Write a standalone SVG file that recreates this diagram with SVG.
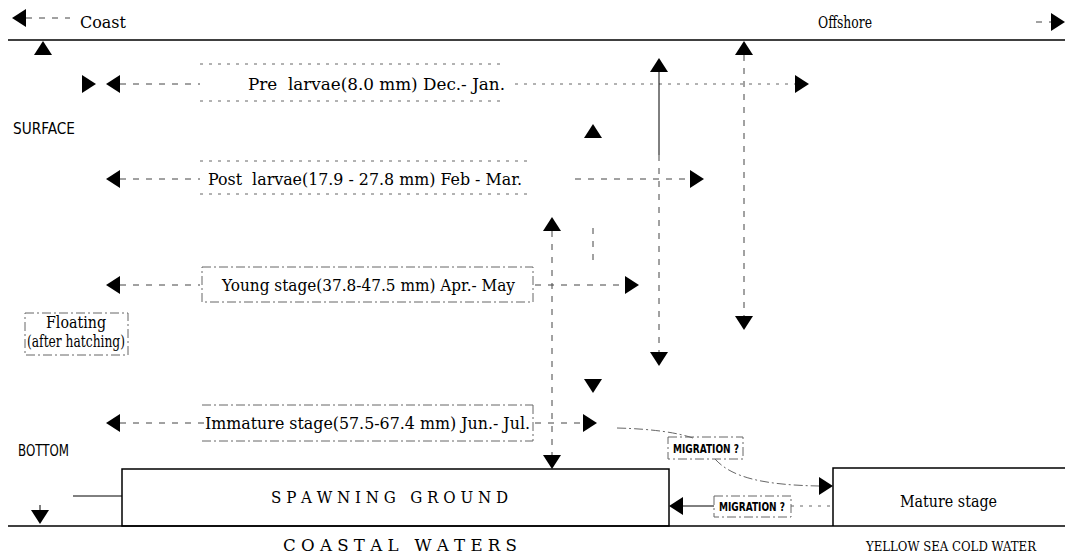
<svg xmlns="http://www.w3.org/2000/svg" width="1065" height="558" viewBox="0 0 1065 558">
<style>
text{font-family:"DejaVu Serif","Liberation Serif",serif;fill:#000;white-space:pre}
.lbl{font-size:16px}
.sans{font-family:"DejaVu Sans","Liberation Sans",sans-serif;font-size:16px}
.sm{font-family:"DejaVu Sans","Liberation Sans",sans-serif;font-size:12px;font-weight:bold}
.solid{stroke:#000;stroke-width:1.5;fill:none}
.thin{stroke:#000;stroke-width:1;fill:none}
.dash{stroke:#444;stroke-width:1;fill:none;stroke-dasharray:6 7}
.dot{stroke:#666;stroke-width:1;fill:none;stroke-dasharray:3 6}
.box{stroke:#666;stroke-width:1;fill:none;stroke-dasharray:9 3 2 3}
</style>
<defs>
<polygon id="tr" points="-14,-9 0,0 -14,9"/>
<polygon id="tl" points="0,0 14,-9 14,9"/>
<polygon id="tu" points="-9,14 0,0 9,14"/>
<polygon id="td" points="-9,-14 9,-14 0,0"/>
</defs>
<rect width="1065" height="558" fill="#fff"/>

<g id="axis">
<line class="solid" x1="8" y1="40" x2="1065" y2="40"/>
<line class="solid" x1="8" y1="526" x2="1065" y2="526"/>
<line class="dash" x1="26" y1="18" x2="70" y2="18"/>
<use href="#tl" x="12" y="18"/>
<text class="lbl" x="80" y="28" textLength="46" lengthAdjust="spacingAndGlyphs">Coast</text>
<text class="lbl" x="818" y="28" textLength="54" lengthAdjust="spacingAndGlyphs">Offshore</text>
<line class="dash" x1="1036" y1="22" x2="1051" y2="22"/>
<use href="#tr" x="1065" y="22"/>
<use href="#tu" x="43" y="41"/>
<text class="sans" x="13" y="134" textLength="62" lengthAdjust="spacingAndGlyphs">SURFACE</text>
<text class="sans" x="18" y="456" textLength="51" lengthAdjust="spacingAndGlyphs">BOTTOM</text>
<text class="lbl" x="283" y="551" font-size="14" textLength="234" lengthAdjust="spacingAndGlyphs">C O A S T A L   W A T E R S</text>
<text x="866" y="551" font-family="Liberation Serif, serif" font-size="12.5" textLength="170" lengthAdjust="spacingAndGlyphs">YELLOW SEA COLD WATER</text>
</g>

<g id="connectors">
<!-- pre larvae row -->
<use href="#tr" x="96" y="84"/>
<use href="#tl" x="106" y="84"/>
<line class="dash" x1="120" y1="84" x2="200" y2="84"/>
<line class="dot" x1="515" y1="84" x2="795" y2="84"/>
<use href="#tr" x="809" y="84"/>
<!-- post larvae row -->
<use href="#tl" x="106" y="179"/>
<line class="dash" x1="120" y1="179" x2="200" y2="179"/>
<line class="dash" x1="575" y1="179" x2="690" y2="179"/>
<use href="#tr" x="704" y="179"/>
<!-- young row -->
<use href="#tl" x="106" y="285"/>
<line class="dash" x1="120" y1="285" x2="200" y2="285"/>
<line class="dash" x1="535" y1="285" x2="625" y2="285"/>
<use href="#tr" x="639" y="285"/>
<!-- immature row -->
<use href="#tl" x="106" y="423"/>
<line class="dash" x1="120" y1="423" x2="204" y2="423"/>
<line class="dash" x1="535" y1="423" x2="583" y2="423"/>
<use href="#tr" x="597" y="423"/>
<!-- vertical x=659 -->
<use href="#tu" x="659" y="58"/>
<line class="thin" x1="659" y1="70" x2="659" y2="155"/>
<line class="dash" x1="659" y1="155" x2="659" y2="352"/>
<use href="#td" x="659" y="366"/>
<!-- vertical x=744 -->
<use href="#tu" x="744" y="41"/>
<line class="dash" x1="744" y1="55" x2="744" y2="316"/>
<use href="#td" x="744" y="330"/>
<!-- x=593 -->
<use href="#tu" x="593" y="124"/>
<line class="dash" x1="593" y1="228" x2="593" y2="262"/>
<use href="#td" x="593" y="393"/>
<!-- x=552 -->
<use href="#tu" x="552" y="217"/>
<line class="dash" x1="552" y1="231" x2="552" y2="455"/>
<use href="#td" x="552" y="469"/>
<!-- migration curves -->
<path class="box" d="M617,428 C655,429 678,433 693,438"/>
<path class="box" d="M715,459 C732,478 765,485 819,486"/>
<use href="#tr" x="833" y="486"/>
<use href="#tl" x="669" y="506"/>
<line class="thin" x1="682" y1="506" x2="714" y2="506"/>
<line class="dot" x1="791" y1="506" x2="830" y2="506"/>
<!-- spawning left -->
<line class="thin" x1="73" y1="496" x2="122" y2="496"/>
<line class="thin" x1="40" y1="505" x2="40" y2="512"/>
<use href="#td" x="40" y="524"/>
</g>

<g id="pre-larvae">
<line class="dot" x1="200" y1="64" x2="505" y2="64"/>
<line class="dot" x1="200" y1="101" x2="505" y2="101"/>
<text class="lbl" x="248" y="90" textLength="257" lengthAdjust="spacingAndGlyphs">Pre  larvae(8.0 mm) Dec.- Jan.</text>
</g>

<g id="post-larvae">
<line class="dot" x1="200" y1="161" x2="530" y2="161"/>
<line class="dot" x1="200" y1="194" x2="530" y2="194"/>
<text class="lbl" x="208" y="185" textLength="314" lengthAdjust="spacingAndGlyphs">Post  larvae(17.9 - 27.8 mm) Feb - Mar.</text>
</g>

<g id="young-stage">
<rect class="box" x="202" y="267" width="331" height="35"/>
<text class="lbl" x="222" y="291" textLength="293" lengthAdjust="spacingAndGlyphs">Young stage(37.8-47.5 mm) Apr.- May</text>
</g>

<g id="immature-stage">
<line class="box" x1="202" y1="405" x2="533" y2="405"/>
<line class="box" x1="202" y1="441" x2="533" y2="441"/>
<line class="box" x1="533" y1="405" x2="533" y2="441"/>
<text class="lbl" x="205" y="429" textLength="325" lengthAdjust="spacingAndGlyphs">Immature stage(57.5-67.4 mm) Jun.- Jul.</text>
</g>

<g id="floating">
<rect class="box" x="25" y="313" width="103" height="42"/>
<text class="lbl" x="46" y="328" font-size="13" textLength="60" lengthAdjust="spacingAndGlyphs">Floating</text>
<text class="lbl" x="27" y="347" font-size="9.5" textLength="98" lengthAdjust="spacingAndGlyphs">(after hatching)</text>
</g>

<g id="spawning-ground">
<rect class="solid" x="122" y="469" width="547" height="57"/>
<text class="lbl" x="271" y="503" textLength="237" lengthAdjust="spacingAndGlyphs">S P A W N I N G   G R O U N D</text>
</g>

<g id="mature-stage">
<path class="solid" d="M1065,468 H833 V526"/>
<text class="lbl" x="900" y="507" textLength="97" lengthAdjust="spacingAndGlyphs">Mature stage</text>
</g>

<g id="migration-1">
<rect class="box" x="668" y="437" width="75" height="22"/>
<text class="sm" x="673" y="453" textLength="66" lengthAdjust="spacingAndGlyphs">MIGRATION ?</text>
</g>

<g id="migration-2">
<rect class="box" x="714" y="496" width="77" height="21"/>
<text class="sm" x="719" y="511" textLength="66" lengthAdjust="spacingAndGlyphs">MIGRATION ?</text>
</g>
</svg>
